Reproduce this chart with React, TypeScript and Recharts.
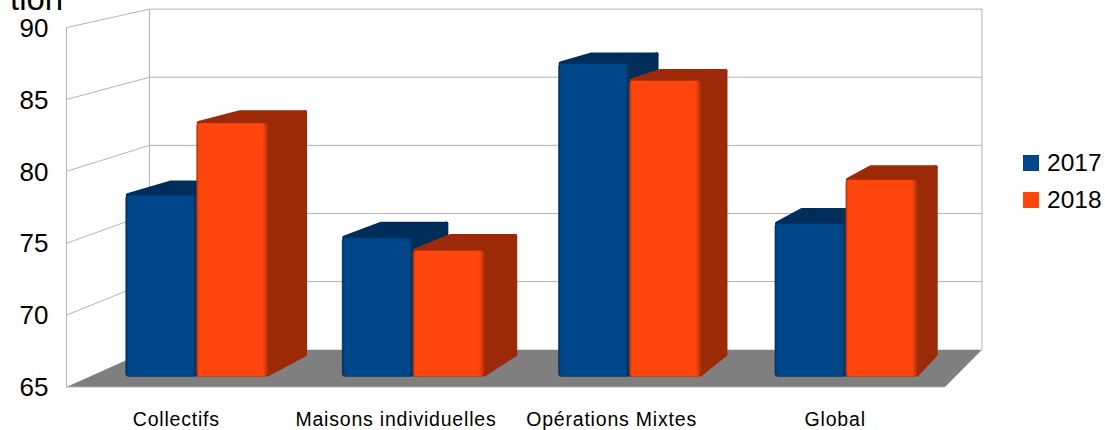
import React from 'react';
import { BarChart, Bar, XAxis, YAxis, CartesianGrid, Legend } from 'recharts';

const categories = ['Collectifs', 'Maisons individuelles', 'Opérations Mixtes', 'Global'];
const values2017 = [77.8, 74.8, 87.1, 75.8];
const values2018 = [82.9, 73.9, 85.9, 78.9];
const yTicks = [65, 70, 75, 80, 85, 90];
const labelNudge = [0, 0, -4, 0];

const data = categories.map((name, i) => ({
  name,
  '2017': values2017[i],
  '2018': values2018[i],
}));

const FONT = '"Liberation Sans", Arial, sans-serif';
const GRID = '#b3b3b3';
const BLUE = '#004789';
const ORANGE = '#ff460e';
const PLOT_TOP = 27.6;
const PLOT_BOTTOM = 387;

// fake perspective: everything shrinks towards one vanishing point
const VP = { x: 1650, y: -325 };
const WALL = 0.9476;
const BAR_FRONT = 0.9853;
const BAR_BACK = 0.9853 * 0.9715;
const BAR_NUDGE = -1.5;

const project = (x: number, y: number, s: number) => ({
  x: VP.x + (x - VP.x) * s,
  y: VP.y + (y - VP.y) * s,
});

const pts = (list: { x: number; y: number }[]) => list.map((p) => `${p.x},${p.y}`).join(' ');

// walls and floor, hung off the horizontal grid lines
const WallLine = (props: any) => {
  const { x1, x2, y1 } = props;
  const a = project(x1, y1, WALL);
  const b = project(x2, y1, WALL);
  const isBottom = Math.abs(y1 - PLOT_BOTTOM) < 1;
  const isTop = Math.abs(y1 - PLOT_TOP) < 1;
  const line = { stroke: GRID, strokeWidth: 1 };
  return (
    <g key={`wall-${y1}`}>
      {isBottom && (
        <polygon
          points={pts([{ x: x1, y: y1 }, a, b, { x: x2, y: y1 }])}
          fill="#7f7f7f"
        />
      )}
      {isBottom && <line x1={x1} y1={y1} x2={x2} y2={y1} {...line} />}
      {isTop && (
        <>
          <line x1={x1} y1={y1} x2={x1} y2={PLOT_BOTTOM} {...line} />
          <line x1={a.x} y1={a.y} x2={a.x} y2={project(x1, PLOT_BOTTOM, WALL).y} {...line} />
          <line x1={b.x} y1={b.y} x2={b.x} y2={project(x2, PLOT_BOTTOM, WALL).y} {...line} />
        </>
      )}
      {!isBottom && <line x1={x1} y1={y1} x2={a.x} y2={a.y} {...line} />}
      {!isBottom && <line x1={a.x} y1={a.y} x2={b.x} y2={b.y} {...line} />}
    </g>
  );
};

const Box = (props: any) => {
  const { x, y, width, height, gradient, dark, edge } = props;
  const left = x + BAR_NUDGE;
  const ftl = project(left, y, BAR_FRONT);
  const fbr = project(left + width, y + height, BAR_FRONT);
  const ftr = { x: fbr.x, y: ftl.y };
  const btl = project(left, y, BAR_BACK);
  const btr = project(left + width, y, BAR_BACK);
  const bbr = project(left + width, y + height, BAR_BACK);
  // points pulled in by the stroke radius so the round joins give soft corners
  const r = 2;
  const soft = { stroke: dark, strokeWidth: r * 2, strokeLinejoin: 'round' as const };
  const backRight = { x: btr.x - r, y: btr.y + r };
  return (
    <g>
      <polygon
        points={pts([{ x: ftl.x + r, y: ftl.y }, { x: btl.x + r, y: btl.y + r }, backRight, ftr])}
        fill={dark}
        {...soft}
      />
      <polygon
        points={pts([ftr, backRight, { x: bbr.x - r, y: bbr.y - r }, { x: fbr.x, y: fbr.y - r }])}
        fill={dark}
        {...soft}
      />
      <rect
        x={ftl.x}
        y={ftl.y}
        width={fbr.x - ftl.x}
        height={fbr.y - ftl.y}
        rx={3}
        fill={`url(#${gradient})`}
        stroke={edge}
        strokeOpacity={0.55}
        strokeWidth={1}
      />
    </g>
  );
};

const barFace = (id: string, edge: string, main: string) => (
  <linearGradient id={id} x1="0" y1="0" x2="1" y2="0">
    <stop offset="0" stopColor={edge} />
    <stop offset="0.035" stopColor={main} />
    <stop offset="0.93" stopColor={main} />
    <stop offset="1" stopColor={edge} />
  </linearGradient>
);

const CategoryTick = (props: any) => {
  const { x, y, payload, index } = props;
  return (
    <text
      x={x + labelNudge[index]}
      y={y}
      dy="0.71em"
      textAnchor="middle"
      fontFamily={FONT}
      fontSize={19.5}
      letterSpacing={0.8}
      fill="#000"
    >
      {payload.value}
    </text>
  );
};

const LegendBox = (props: any) => (
  <div style={{ fontFamily: FONT, fontSize: 24.5, color: '#000' }}>
    {props.payload.map((entry: any) => (
      <div key={entry.value} style={{ display: 'flex', alignItems: 'center', height: 37 }}>
        <div style={{ width: 16, height: 16, marginRight: 8, background: entry.color }} />
        {entry.value}
      </div>
    ))}
  </div>
);

export default function App() {
  return (
    <div style={{ position: 'absolute', left: 0, top: 0 }}>
      <BarChart
        width={1105}
        height={430}
        data={data}
        barGap={0}
        barSize={72}
        margin={{ top: PLOT_TOP, right: 160, bottom: 0, left: 0 }}
      >
        <defs>
          {barFace('face2017', '#00305e', BLUE)}
          {barFace('face2018', '#b5340b', ORANGE)}
        </defs>
        <text x={10} y={10} fontFamily={FONT} fontSize={33} fill="#000">
          tion
        </text>
        <CartesianGrid horizontal={(p: any) => <WallLine {...p} />} vertical={false} />
        <XAxis
          dataKey="name"
          height={43}
          axisLine={false}
          tickLine={false}
          interval={0}
          tickMargin={19}
          tick={<CategoryTick />}
        />
        <YAxis
          width={66.5}
          domain={[65, 90]}
          ticks={yTicks}
          interval={0}
          axisLine={false}
          tickLine={false}
          tickMargin={12}
          tick={{ fontFamily: FONT, fontSize: 26, fill: '#000' }}
        />
        <Legend
          layout="vertical"
          align="center"
          verticalAlign="middle"
          content={<LegendBox />}
          wrapperStyle={{ left: 1023, top: 144.5, width: 82, whiteSpace: 'nowrap' }}
        />
        <Bar
          dataKey="2017"
          fill={BLUE}
          isAnimationActive={false}
          shape={(p: any) => <Box {...p} gradient="face2017" dark="#002e5a" edge="#00305e" />}
        />
        <Bar
          dataKey="2018"
          fill={ORANGE}
          isAnimationActive={false}
          shape={(p: any) => <Box {...p} gradient="face2018" dark="#9c2a08" edge="#b5340b" />}
        />
      </BarChart>
    </div>
  );
}
